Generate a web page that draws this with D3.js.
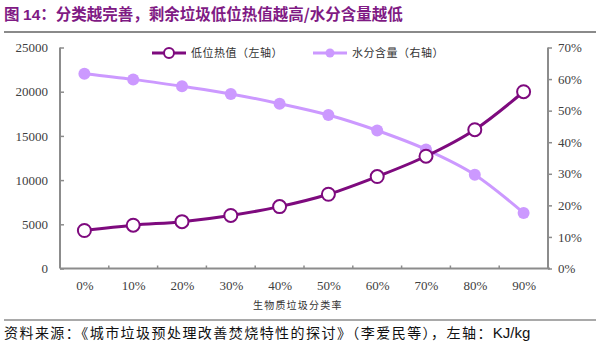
<!DOCTYPE html>
<html><head><meta charset="utf-8">
<script src="https://cdn.jsdelivr.net/npm/d3@7"></script>
<style>body{margin:0;background:#fff;} svg{display:block;}</style>
</head><body>
<svg id="c" width="600" height="345"></svg>
<script>
const categories = ["0%","10%","20%","30%","40%","50%","60%","70%","80%","90%"];
const heatValue = [4300, 4900, 5300, 6000, 7000, 8400, 10400, 12700, 15700, 20000];
const moisture = [61.7, 59.9, 57.7, 55.3, 52.2, 48.6, 43.7, 37.7, 29.7, 17.6];
const leftTicks = [0, 5000, 10000, 15000, 20000, 25000];
const rightTicks = [0, 10, 20, 30, 40, 50, 60, 70];
const seriesNames = ["低位热值（左轴）", "水分含量（右轴）"];
const xTitle = "生物质垃圾分类率";

const svg = d3.select("#c");
const dark = "#7E0A7E", light = "#CC99FF", axisC = "#8C8C8C";
const L = 60, R = 548, T = 47.5, B = 268.5;

// title
const title = svg.append("text").attr("x", 4).attr("y", 20).attr("fill", "#7F1A84")
  .style("font-weight", "bold").style("font-size", "15.5px");
title.append("tspan").style("font-family", "'Noto Sans CJK SC'").text("图 ");
title.append("tspan").style("font-family", "'Liberation Sans',Arial").text("14");
title.append("tspan").style("font-family", "'Noto Sans CJK SC'").text("：分类越完善，剩余垃圾低位热值越高/水分含量越低");
svg.append("line").attr("x1", 4).attr("x2", 596).attr("y1", 32).attr("y2", 32)
  .attr("stroke", "#8a8a8a").attr("stroke-width", 2);

const x = d3.scalePoint().domain(categories).range([L, R]).padding(0.5);
const xb = d3.scaleBand().domain(categories).range([L, R]);
const yL = d3.scaleLinear().domain([0, 25000]).range([B, T]);
const yR = d3.scaleLinear().domain([0, 70]).range([B, T]);

const tickFont = "'Liberation Serif','Times New Roman',serif";

const gL = svg.append("g").attr("transform", `translate(${L},0)`)
  .call(d3.axisLeft(yL).tickValues(leftTicks).tickSize(-4).tickPadding(12).tickFormat(d3.format("d")));
const gR = svg.append("g").attr("transform", `translate(${R},0)`)
  .call(d3.axisRight(yR).tickValues(rightTicks).tickSize(4).tickPadding(6).tickFormat(d => d + "%"));
const gX = svg.append("g").attr("transform", `translate(0,${B})`)
  .call(d3.axisBottom(x).tickSize(0).tickPadding(12));
const bounds = categories.slice(1).map(c => xb(c));
gX.selectAll("line.bt").data(bounds).enter().append("line").attr("class", "bt")
  .attr("x1", d => d).attr("x2", d => d).attr("y1", 0).attr("y2", -3)
  .attr("stroke", axisC).attr("stroke-width", 1.5);

[gL, gR, gX].forEach(g => {
  g.select(".domain").attr("stroke", axisC).attr("stroke-width", 2);
  g.selectAll(".tick line").attr("stroke", axisC).attr("stroke-width", 1.5);
  g.selectAll("text").style("font-family", tickFont).style("font-size", "13px").attr("fill", "#404040");
});
gL.select(".domain").attr("d", `M0,${T}V${B}`);
gR.select(".domain").attr("d", `M0,${T}V${B}`);
gX.select(".domain").attr("d", `M${L},0H${R + 2}`);

svg.append("text").attr("x", 253).attr("y", 308.5)
  .style("font-family", "'Noto Sans CJK SC'").style("font-size", "10px").style("letter-spacing", "1.2px").attr("fill", "#333")
  .text(xTitle);

const lineL = d3.line().x((d, i) => x(categories[i])).y(d => yL(d)).curve(d3.curveMonotoneX);
const lineR = d3.line().x((d, i) => x(categories[i])).y(d => yR(d)).curve(d3.curveMonotoneX);

svg.append("path").attr("d", lineR(moisture)).attr("fill", "none").attr("stroke", light).attr("stroke-width", 3);
svg.selectAll("circle.m").data(moisture).enter().append("circle").attr("class", "m")
  .attr("cx", (d, i) => x(categories[i])).attr("cy", d => yR(d)).attr("r", 6).attr("fill", light);

svg.append("path").attr("d", lineL(heatValue)).attr("fill", "none").attr("stroke", dark).attr("stroke-width", 3);
svg.selectAll("circle.h").data(heatValue).enter().append("circle").attr("class", "h")
  .attr("cx", (d, i) => x(categories[i])).attr("cy", d => yL(d)).attr("r", 6.5)
  .attr("fill", "#fff").attr("stroke", dark).attr("stroke-width", 2);

const lg = svg.append("g");
lg.append("line").attr("x1", 152).attr("x2", 186).attr("y1", 53).attr("y2", 53).attr("stroke", dark).attr("stroke-width", 3);
lg.append("circle").attr("cx", 169).attr("cy", 53).attr("r", 5).attr("fill", "#fff").attr("stroke", dark).attr("stroke-width", 2);
lg.append("text").attr("x", 191).attr("y", 57).text(seriesNames[0]);
lg.append("line").attr("x1", 313).attr("x2", 347).attr("y1", 53).attr("y2", 53).attr("stroke", light).attr("stroke-width", 3);
lg.append("circle").attr("cx", 330).attr("cy", 53).attr("r", 4.5).attr("fill", light);
lg.append("text").attr("x", 352).attr("y", 57).text(seriesNames[1]);
lg.selectAll("text").style("font-family", "'Noto Sans CJK SC'").style("font-size", "11px").style("letter-spacing", "0.5px").attr("fill", "#333");

svg.append("line").attr("x1", 4).attr("x2", 596).attr("y1", 320).attr("y2", 320)
  .attr("stroke", "#555").attr("stroke-width", 1.2);
const src = svg.append("text").attr("x", 4).attr("y", 338).attr("fill", "#111");
src.append("tspan").style("font-family", "'Noto Sans CJK SC'").style("font-size", "14px").style("letter-spacing", "1.45px")
  .text("资料来源：《城市垃圾预处理改善焚烧特性的探讨》（李爱民等），左轴：");
src.append("tspan").style("font-family", "'Liberation Sans',Arial").style("font-size", "15px").text("KJ/kg");
</script>
</body></html>
